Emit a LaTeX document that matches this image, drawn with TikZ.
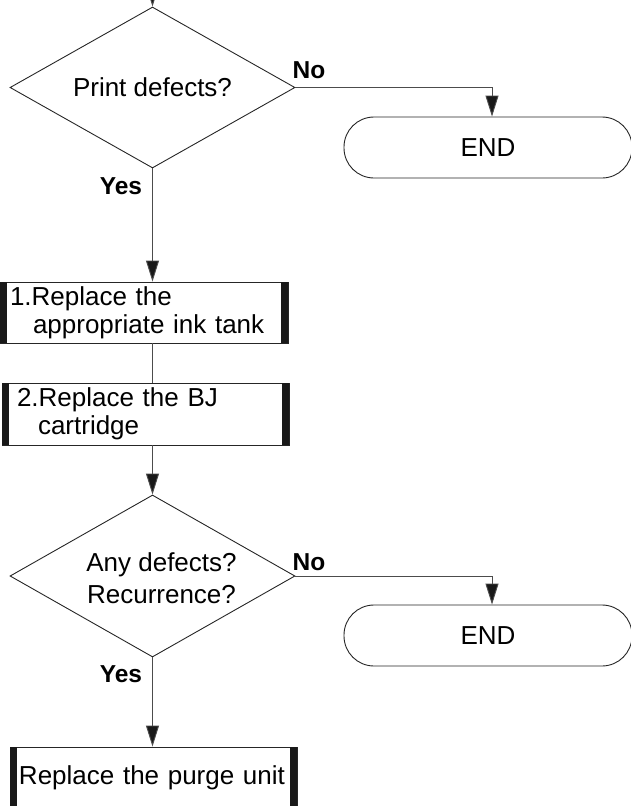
\documentclass[tikz,border=0pt]{standalone}
\usepackage{fontspec}
\setmainfont{Liberation Sans}
\usetikzlibrary{shapes.geometric,arrows.meta}
\begin{document}
\begin{tikzpicture}[x=1pt,y=-1pt,
  txt/.style={font=\fontsize{26}{28}\selectfont},
  conn/.style={draw=black!70,line width=0.9pt},
  arr/.style={conn,-{Triangle[length=21pt,width=13pt,fill=black!90]}},
  dia/.style={diamond,draw=black!85,line width=0.9pt,minimum width=285pt,
    minimum height=161pt,inner sep=0pt,aspect=1.77,txt},
  stepbox/.style={draw=black!85,line width=0.9pt,align=left,txt,inner ysep=0pt},
  bar/.style={fill=black!90},
  term/.style={draw=black!85,line width=0.9pt,rounded corners=30pt,
    minimum width=288pt,minimum height=61pt,inner sep=0pt,txt},
  lab/.style={font=\fontsize{24.5}{26}\selectfont\bfseries,inner sep=0pt}
]
\useasboundingbox (0,0) rectangle (630,806);
\coordinate (start) at (152.5,-25);
\node[dia] (d1) at (152.5,87.5) {Print defects?};
\node[term] (end1) at (488,147.5) {END};
\node[stepbox,minimum width=288pt,minimum height=61pt,inner xsep=10pt,text width=268pt]
  (b1) at (144,312.5) {1.Replace the\\\hspace*{23pt}appropriate ink tank};
\node[stepbox,minimum width=287pt,minimum height=62pt,inner xsep=15pt,text width=257pt]
  (b2) at (145.5,414) {2.Replace the BJ\\\hspace*{21pt}cartridge};
\node[dia,minimum height=162pt] (d2) at (152.5,576) {};
\node[txt,align=center,inner sep=0pt,font=\fontsize{26}{32}\selectfont] (d2t) at (161.5,578.5) {Any defects?\\Recurrence?};
\node[term] (end2) at (488,635.5) {END};
\node[stepbox,minimum width=287pt,minimum height=62.5pt,inner xsep=9pt,text width=269pt]
  (b3) at (153.5,778.25) {Replace the purge unit};
\foreach \b in {b1,b2,b3}{
  \fill[bar] (\b.north west) rectangle ([xshift=7pt]\b.south west);
  \fill[bar] (\b.north east) rectangle ([xshift=-7pt]\b.south east);
}
\node[lab] (no1) at (309,70) {No};
\node[lab] (yes1) at (121,186) {Yes};
\node[lab] (no2) at (309,562) {No};
\node[lab] (yes2) at (121,674) {Yes};
\draw[arr] (start) -- (d1.north);
\draw[arr] (d1.east) -| ([xshift=4pt]end1.north);
\draw[arr] (d1.south) -- (d1.south |- b1.north);
\draw[conn] (d1.south |- b1.south) -- (d1.south |- b2.north);
\draw[arr] (d2.north |- b2.south) -- (d2.north);
\draw[arr] (d2.east) -| ([xshift=4pt]end2.north);
\draw[arr] (d2.south) -- (d2.south |- b3.north);
\end{tikzpicture}
\end{document}
